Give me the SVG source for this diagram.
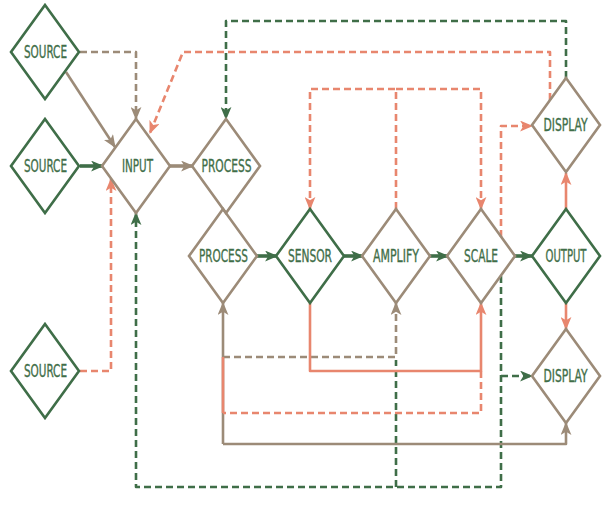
<svg xmlns="http://www.w3.org/2000/svg" width="612" height="512" viewBox="0 0 612 512">
<style>
.n{fill:none;stroke-width:2.6;stroke-linejoin:miter}
.g{stroke:#3f6e48}
.t{stroke:#9c8b78}
.lbl{font-family:'DejaVu Sans Condensed','DejaVu Sans',sans-serif;font-size:17.5px;fill:#3f6e48;stroke:#3f6e48;stroke-width:0.35;text-anchor:middle}
.c{fill:none;stroke-linejoin:round;stroke-linecap:butt}
.sg{stroke:#3f6e48}
.st{stroke:#9c8b78}
.ss{stroke:#e8866e}
.w{stroke-width:2.6}
.k{stroke-width:3.6}
.d{stroke-dasharray:7 4}
</style>
<defs>
<marker id="ag" viewBox="0 0 12 10" refX="11" refY="5" markerWidth="13" markerHeight="11" markerUnits="userSpaceOnUse" orient="auto"><path d="M0,0 L12,5 L0,10 L3,5 z" fill="#3f6e48"/></marker>
<marker id="at" viewBox="0 0 12 10" refX="11" refY="5" markerWidth="13" markerHeight="11" markerUnits="userSpaceOnUse" orient="auto"><path d="M0,0 L12,5 L0,10 L3,5 z" fill="#9c8b78"/></marker>
<marker id="as" viewBox="0 0 12 10" refX="11" refY="5" markerWidth="13" markerHeight="11" markerUnits="userSpaceOnUse" orient="auto"><path d="M0,0 L12,5 L0,10 L3,5 z" fill="#e8866e"/></marker>
</defs>
<rect width="612" height="512" fill="#ffffff"/>
<g id="connectors">
<path class="c st w" d="M66,72 L115,147" marker-end="url(#at)"/>
<path class="c st w d" d="M80,52 L136,52 L136,119" marker-end="url(#at)"/>
<path class="c sg k" d="M80,166 L103,166" marker-end="url(#ag)"/>
<path class="c st k" d="M170,166 L193,166" marker-end="url(#at)"/>
<path class="c ss w d" d="M80,371 L111,371 L111,179" marker-end="url(#as)"/>
<path class="c ss w d" d="M550,100 L550,52 L183,52 L150,133" marker-end="url(#as)"/>
<path class="c sg w d" d="M566,78 L566,21 L226,21 L226,119" marker-end="url(#ag)"/>
<path class="c sg k" d="M257,256 L277,256" marker-end="url(#ag)"/>
<path class="c sg k" d="M344,256 L363,256" marker-end="url(#ag)"/>
<path class="c sg k" d="M430,256 L448,256" marker-end="url(#ag)"/>
<path class="c sg k" d="M515,256 L532,256" marker-end="url(#ag)"/>
<path class="c ss w" d="M566,209 L566,173" marker-end="url(#as)"/>
<path class="c ss w" d="M566,303 L566,329" marker-end="url(#as)"/>
<path class="c ss w d" d="M396,209 L396,89 L310,89 L310,209" marker-end="url(#as)"/>
<path class="c ss w d" d="M396,89 L481,89 L481,209" marker-end="url(#as)"/>
<path class="c ss w d" d="M501,237 L501,126 L532,126" marker-end="url(#as)"/>
<path class="c sg w d" d="M396,487 L396,360"/>
<path class="c sg w d" d="M501,276 L501,487 L136,487 L136,213" marker-end="url(#ag)"/>
<path class="c sg w d" d="M501,376 L532,376" marker-end="url(#ag)"/>
<path class="c st w" d="M223,444 L223,303" marker-end="url(#at)"/>
<path class="c st w" d="M223,444 L566,444 L566,423" marker-end="url(#at)"/>
<path class="c st w d" d="M223,357 L396,357 L396,303" marker-end="url(#at)"/>
<path class="c ss w" d="M310,303 L310,371 L481,371 L481,303" marker-end="url(#as)"/>
<path class="c ss w d" d="M481,371 L481,413 L223,413"/>
<path class="c ss w" d="M223,413 L223,357"/>
</g>
<g id="source1"><path class="n g" d="M45,5 L79,52 L45,99 L11,52 Z"/><text class="lbl" x="45.5" y="58" textLength="43" lengthAdjust="spacingAndGlyphs">SOURCE</text></g>
<g id="source2"><path class="n g" d="M45,119 L79,166 L45,213 L11,166 Z"/><text class="lbl" x="45.5" y="172" textLength="43" lengthAdjust="spacingAndGlyphs">SOURCE</text></g>
<g id="source3"><path class="n g" d="M45,324 L79,371 L45,418 L11,371 Z"/><text class="lbl" x="45.5" y="377" textLength="43" lengthAdjust="spacingAndGlyphs">SOURCE</text></g>
<g id="input"><path class="n t" d="M136,119 L170,166 L136,213 L102,166 Z"/><text class="lbl" x="137.5" y="172" textLength="31" lengthAdjust="spacingAndGlyphs">INPUT</text></g>
<g id="process1"><path class="n t" d="M226,119 L260,166 L226,213 L192,166 Z"/><text class="lbl" x="226.5" y="172" textLength="50" lengthAdjust="spacingAndGlyphs">PROCESS</text></g>
<g id="process2"><path class="n t" d="M223,209 L257,256 L223,303 L189,256 Z"/><text class="lbl" x="223.5" y="262" textLength="49" lengthAdjust="spacingAndGlyphs">PROCESS</text></g>
<g id="sensor"><path class="n g" d="M310,209 L344,256 L310,303 L276,256 Z"/><text class="lbl" x="310" y="262" textLength="44" lengthAdjust="spacingAndGlyphs">SENSOR</text></g>
<g id="amplify"><path class="n t" d="M396,209 L430,256 L396,303 L362,256 Z"/><text class="lbl" x="396" y="262" textLength="46" lengthAdjust="spacingAndGlyphs">AMPLIFY</text></g>
<g id="scale"><path class="n t" d="M481,209 L515,256 L481,303 L447,256 Z"/><text class="lbl" x="481" y="262" textLength="34" lengthAdjust="spacingAndGlyphs">SCALE</text></g>
<g id="output"><path class="n g" d="M566,209 L600,256 L566,303 L532,256 Z"/><text class="lbl" x="566" y="262" textLength="41" lengthAdjust="spacingAndGlyphs">OUTPUT</text></g>
<g id="display1"><path class="n t" d="M566,78 L600,125 L566,172 L532,125 Z"/><text class="lbl" x="565.5" y="131" textLength="44" lengthAdjust="spacingAndGlyphs">DISPLAY</text></g>
<g id="display2"><path class="n t" d="M566,329 L600,376 L566,423 L532,376 Z"/><text class="lbl" x="565.5" y="382" textLength="44" lengthAdjust="spacingAndGlyphs">DISPLAY</text></g>
</svg>
